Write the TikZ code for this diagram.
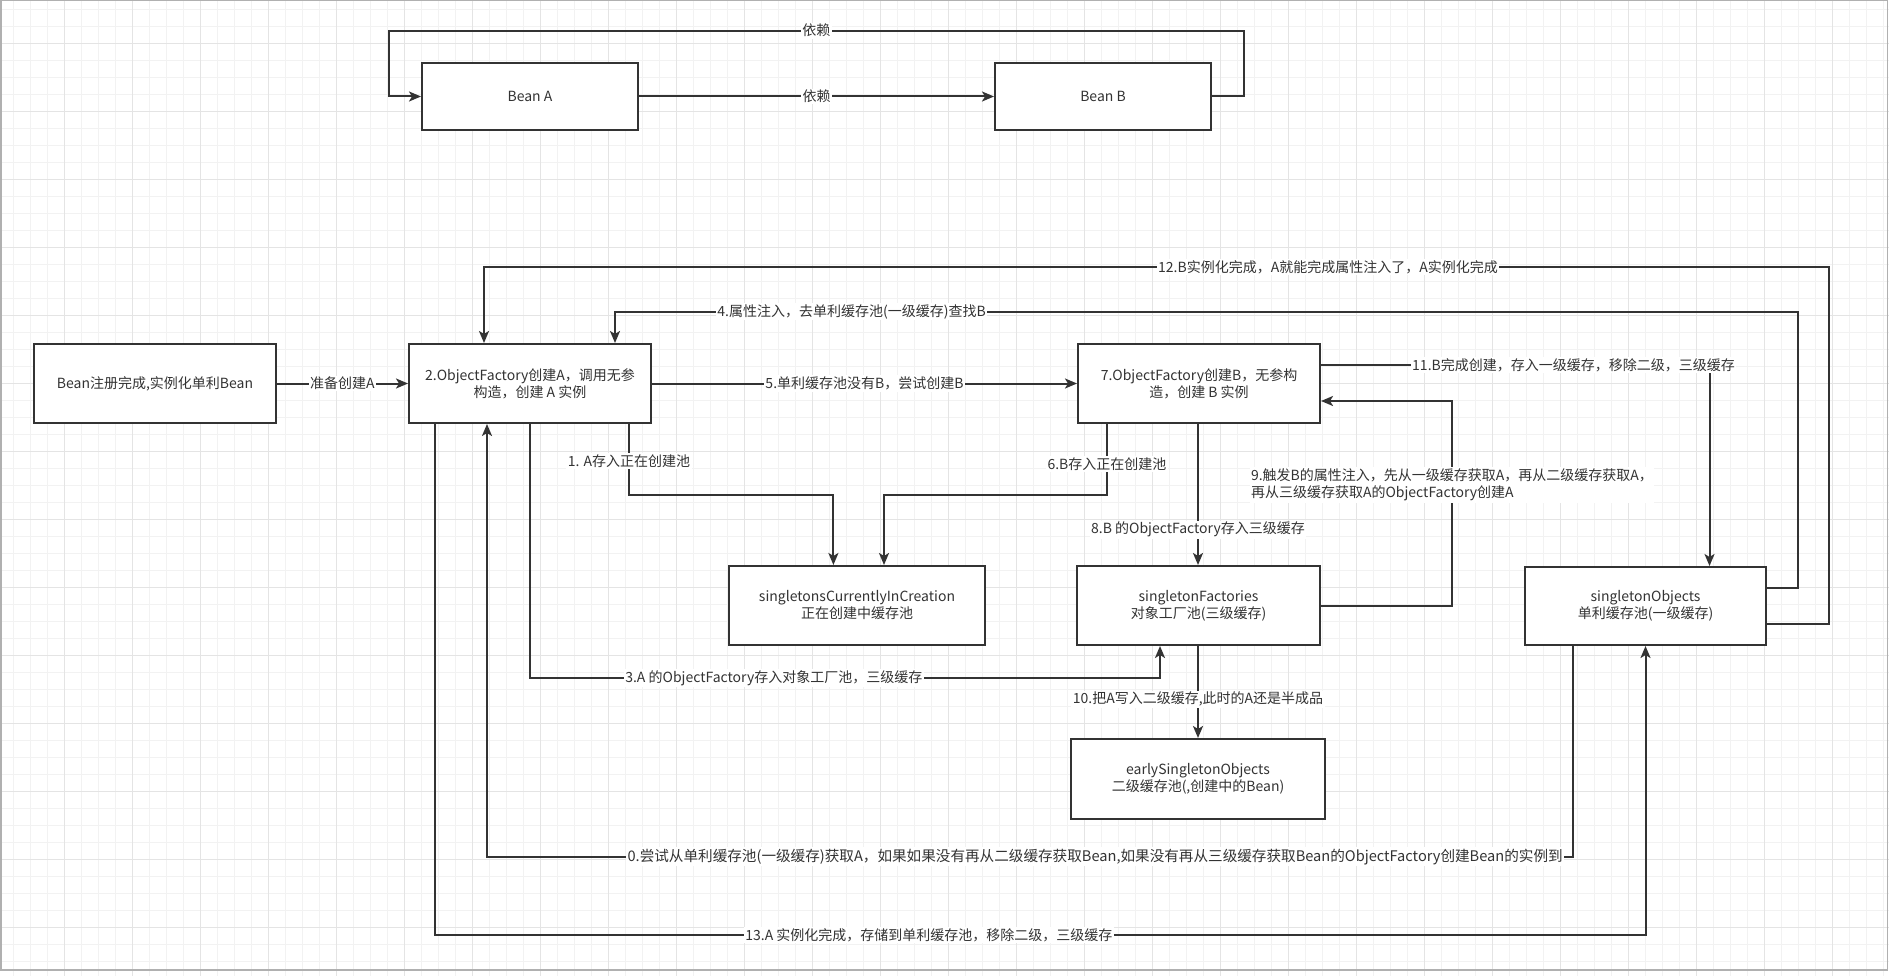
\documentclass[tikz,border=0pt]{standalone}
\usepackage{fontspec}
\setmainfont{Noto Sans CJK SC}
\usetikzlibrary{arrows.meta}
\definecolor{linec}{HTML}{333333}
\definecolor{txtc}{HTML}{333333}
\definecolor{gridminor}{HTML}{F2F2F2}
\definecolor{gridmajor}{HTML}{E4E4E4}
\definecolor{framec}{HTML}{B0B0B0}
\begin{document}
\begin{tikzpicture}[x=1pt,y=-1pt,
  box/.style={draw=linec, fill=white, line width=2pt, inner sep=0pt, align=center, text=txtc, font=\fontsize{14}{17}\selectfont},
  lbl/.style={fill=white, inner sep=1.5pt, text=txtc, font=\fontsize{14}{17}\selectfont},
  arr/.style={draw=linec, line width=2pt, -{Stealth[length=12pt,width=10pt,inset=3pt]}}]

\useasboundingbox (0,0) rectangle (1889,976);
\fill[white] (0,0) rectangle (1889,976);
\foreach \i in {0,...,110} \draw[gridminor, line width=1pt] ({13.3+17*\i},0) -- ({13.3+17*\i},976);
\foreach \j in {0,...,56} \draw[gridminor, line width=1pt] (0,{9.3+17*\j}) -- (1889,{9.3+17*\j});
\foreach \i in {0,...,26} \draw[gridmajor, line width=1pt] ({64.3+68*\i},0) -- ({64.3+68*\i},976);
\foreach \j in {0,...,13} \draw[gridmajor, line width=1pt] (0,{43.3+68*\j}) -- (1889,{43.3+68*\j});
\draw[framec, line width=1.5pt] (0.75,0.75) rectangle (1887.5,970);

% nodes
\node[box, minimum width=216pt, minimum height=67pt] (beanA) at (530,96.5) {Bean A};
\node[box, minimum width=216pt, minimum height=67pt] (beanB) at (1103,96.5) {Bean B};
\node[box, minimum width=242pt, minimum height=79pt] (beanReg) at (155,383.5) {Bean注册完成,实例化单利Bean};
\node[box, minimum width=242pt, minimum height=79pt] (objA) at (530,383.5) {2.ObjectFactory创建A，调用无参\\构造，创建 A 实例};
\node[box, minimum width=242pt, minimum height=79pt] (objB) at (1199,383.5) {7.ObjectFactory创建B，无参构\\造，创建 B 实例};
\node[box, minimum width=256pt, minimum height=79pt] (sCIC) at (857,605.5) {singletonsCurrentlyInCreation\\正在创建中缓存池};
\node[box, minimum width=243pt, minimum height=79pt] (sF) at (1198.5,605.5) {singletonFactories\\对象工厂池(三级缓存)};
\node[box, minimum width=241pt, minimum height=78pt] (sO) at (1645.5,606) {singletonObjects\\单利缓存池(一级缓存)};
\node[box, minimum width=254pt, minimum height=80pt] (eSO) at (1198,779) {earlySingletonObjects\\二级缓存池(,创建中的Bean)};

% helper coordinates
\coordinate (cTopR) at (1244,30.7);
\coordinate (cTopL) at (388.5,30.7);
\coordinate (c12r) at (1829,624);
\coordinate (c12tr) at (1829,267);
\coordinate (c12tl) at (484,267);
\coordinate (c4r) at (1797.7,588);
\coordinate (c4tr) at (1797.7,311.7);
\coordinate (c4tl) at (615,311.7);
\coordinate (c11) at (1709.5,365);
\coordinate (c9b) at (1452,606);
\coordinate (c9t) at (1452,401);
\coordinate (c1a) at (629,495);
\coordinate (c1b) at (833.4,495);
\coordinate (c6a) at (1107,495);
\coordinate (c6b) at (884,495);
\coordinate (c8) at (1198,0);
\coordinate (c3a) at (530,678.3);
\coordinate (c3b) at (1160,678.3);
\coordinate (c0a) at (1573,856.7);
\coordinate (c0b) at (487,856.7);
\coordinate (c13a) at (435,935);
\coordinate (c13b) at (1645.5,935);

% top dependency loop
\draw[arr] (beanA.east) -- node[lbl]{依赖} (beanB.west);
\draw[arr] (beanB.east) -| (cTopR) -- node[lbl]{依赖} (cTopL) |- (beanA.west);

% main flow
\draw[arr] (beanReg.east) -- node[lbl]{准备创建A} (objA.west);
\draw[arr] (objA.east) -- node[lbl]{5.单利缓存池没有B，尝试创建B} (objB.west);
\draw[arr] (sO.east |- c12r) -- (c12r) -- (c12tr) -- node[lbl, pos=0.3725]{12.B实例化完成，A就能完成属性注入了，A实例化完成} (c12tl) -- (objA.north -| c12tl);
\draw[arr] (sO.east |- c4r) -- (c4r) -- (c4tr) -- node[lbl, pos=0.80]{4.属性注入，去单利缓存池(一级缓存)查找B} (c4tl) -- (objA.north -| c4tl);
\draw[arr] (objB.east |- c11) -- node[lbl, pos=0.65]{11.B完成创建，存入一级缓存，移除二级，三级缓存} (c11) -- (sO.north -| c11);
\draw[arr] (sF.east |- c9b) -- (c9b) -- node[lbl, pos=0.59, align=left]{9.触发B的属性注入，先从一级缓存获取A，再从二级缓存获取A，\\再从三级缓存获取A的ObjectFactory创建A} (c9t) -- (objB.east |- c9t);
\draw[arr] (objA.south -| c1a) -- node[lbl, pos=0.52]{1. A存入正在创建池} (c1a) -- (c1b) -- (sCIC.north -| c1b);
\draw[arr] (objB.south -| c6a) -- node[lbl, pos=0.56]{6.B存入正在创建池} (c6a) -- (c6b) -- (sCIC.north -| c6b);
\draw[arr] (objB.south -| c8) -- node[lbl, pos=0.75]{8.B 的ObjectFactory存入三级缓存} (sF.north -| c8);
\draw[arr] (objA.south -| c3a) -- (c3a) -- node[lbl, pos=0.387]{3.A 的ObjectFactory存入对象工厂池，三级缓存} (c3b) -- (sF.south -| c3b);
\draw[arr] (sF.south -| c8) -- node[lbl, pos=0.58]{10.把A写入二级缓存,此时的A还是半成品} (eSO.north -| c8);
\draw[arr] (sO.south -| c0a) -- (c0a) -- node[lbl, pos=0.44, font=\fontsize{14.6}{17}\selectfont]{0.尝试从单利缓存池(一级缓存)获取A，如果如果没有再从二级缓存获取Bean,如果没有再从三级缓存获取Bean的ObjectFactory创建Bean的实例到} (c0b) -- (objA.south -| c0b);
\draw[arr] (objA.south -| c13a) -- (c13a) -- node[lbl, pos=0.408]{13.A 实例化完成，存储到单利缓存池，移除二级，三级缓存} (c13b) -- (sO.south -| c13b);
\end{tikzpicture}
\end{document}
